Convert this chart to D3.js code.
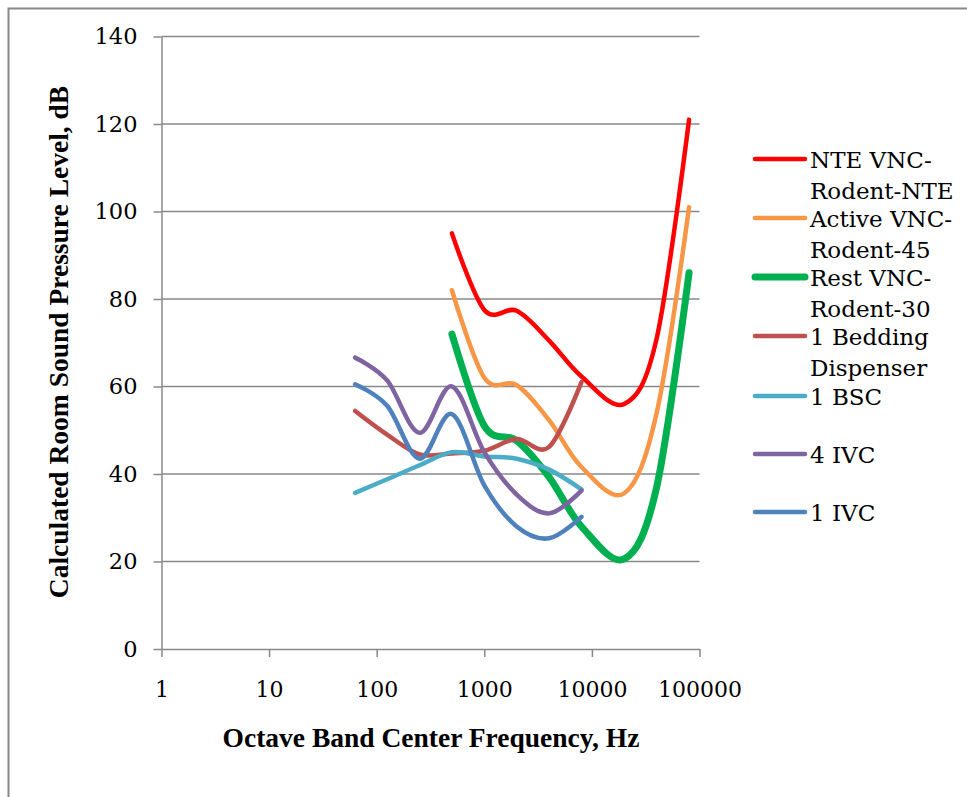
<!DOCTYPE html>
<html>
<head>
<meta charset="utf-8">
<script src="https://cdn.jsdelivr.net/npm/d3@7"></script>
<style>
  html, body { margin: 0; padding: 0; background: #fff; }
  svg { display: block; }
  text { fill: #000; }
</style>
</head>
<body>
<svg id="chart" width="967" height="797"></svg>
<script>
// Octave band centre frequencies (Hz)
const freqCriteria = [500, 1000, 2000, 4000, 8000, 20000, 40000, 80000];
const freqSources  = [63, 125, 250, 500, 1000, 2000, 4000, 8000];

// Room sound pressure levels (dB)
const nteVnc     = [95, 77.5, 77.3, 70.5, 62.3, 56, 71, 121];
const activeVnc  = [82, 62, 60.3, 52.3, 41.6, 35.6, 54, 101];
const restVnc    = [72, 51, 47.6, 39.3, 28, 20.6, 37, 86];
const bedding    = [54.4, 49, 44.5, 44.7, 45.3, 48, 46.2, 61];
const bsc        = [35.7, 38.8, 42, 45, 44, 43.5, 41, 36.5];
const ivc4       = [66.6, 61.4, 49.4, 60, 45, 35.3, 31, 36.2];
const ivc1       = [60.5, 55.6, 43.5, 53.7, 37.4, 28, 25.3, 30.2];

const seriesNames = [
  ["NTE VNC-", "Rodent-NTE"],
  ["Active VNC-", "Rodent-45"],
  ["Rest VNC-", "Rodent-30"],
  ["1 Bedding", "Dispenser"],
  ["1 BSC"],
  ["4 IVC"],
  ["1 IVC"]
];
const seriesColors = ["#FF0000", "#F79646", "#00B050", "#C0504D", "#4BACC6", "#8064A2", "#4F81BD"];
const seriesWidths = [4.5, 4.5, 7, 4.5, 4.5, 4.5, 4.5];

const yTicks = [0, 20, 40, 60, 80, 100, 120, 140];
const xTicks = [1, 10, 100, 1000, 10000, 100000];

const series = [
  { x: freqCriteria, y: nteVnc },
  { x: freqCriteria, y: activeVnc },
  { x: freqCriteria, y: restVnc },
  { x: freqSources,  y: bedding },
  { x: freqSources,  y: bsc },
  { x: freqSources,  y: ivc4 },
  { x: freqSources,  y: ivc1 }
].map((s, i) => ({
  name: seriesNames[i], color: seriesColors[i], width: seriesWidths[i],
  points: s.x.map((f, j) => [f, s.y[j]])
}));

const bodyFont = "'DejaVu Serif', serif";
const titleFont = "'Liberation Serif', 'Times New Roman', serif";

const svg = d3.select("#chart");
const gray = "#888888";

// outer frame
svg.append("rect")
  .attr("x", 8.5).attr("y", 8.5).attr("width", 1000).attr("height", 1000)
  .attr("fill", "none").attr("stroke", gray).attr("stroke-width", 2);

const x = d3.scaleLog().domain([1, 100000]).range([161.5, 699.5]);
const y = d3.scaleLinear().domain([0, 140]).range([649, 36.5]);

// horizontal gridlines
svg.append("g").selectAll("line")
  .data(yTicks.filter(d => d > 0))
  .join("line")
  .attr("x1", x.range()[0]).attr("x2", x.range()[1])
  .attr("y1", d => y(d)).attr("y2", d => y(d))
  .attr("stroke", gray).attr("stroke-width", 1.5);

// y axis
const yAxis = svg.append("g")
  .attr("transform", `translate(${x.range()[0]},0)`)
  .call(d3.axisLeft(y).tickValues(yTicks).tickSize(8).tickSizeOuter(0).tickPadding(16));
yAxis.select(".domain").attr("stroke", gray).attr("stroke-width", 1.5);
yAxis.selectAll(".tick line").attr("stroke", gray).attr("stroke-width", 1.5);
yAxis.selectAll(".tick text")
  .style("font-family", bodyFont).style("font-size", "22.5px").attr("fill", "#000");

// x axis
const xAxis = svg.append("g")
  .attr("transform", `translate(0,${y(0)})`)
  .call(d3.axisBottom(x).tickValues(xTicks).tickFormat(d3.format("d"))
    .tickSize(8).tickSizeOuter(0).tickPadding(24));
xAxis.select(".domain").attr("stroke", gray).attr("stroke-width", 1.5);
xAxis.selectAll(".tick line").attr("stroke", gray).attr("stroke-width", 1.5);
xAxis.selectAll(".tick text")
  .style("font-family", bodyFont).style("font-size", "22px").attr("fill", "#000");

// axis titles
svg.append("text")
  .attr("transform", "translate(68,342) rotate(-90)")
  .attr("text-anchor", "middle")
  .style("font-family", titleFont).style("font-weight", "bold").style("font-size", "27.5px")
  .text("Calculated Room Sound Pressure Level, dB");

svg.append("text")
  .attr("x", 431).attr("y", 747)
  .attr("text-anchor", "middle")
  .style("font-family", titleFont).style("font-weight", "bold").style("font-size", "27.5px")
  .text("Octave Band Center Frequency, Hz");

// smoothed series lines
const line = d3.line()
  .x(d => x(d[0])).y(d => y(d[1]))
  .curve(d3.curveCardinal.tension(0));

svg.append("g").selectAll("path")
  .data(series)
  .join("path")
  .attr("d", d => line(d.points))
  .attr("fill", "none")
  .attr("stroke", d => d.color)
  .attr("stroke-width", d => d.width)
  .attr("stroke-linecap", "round")
  .attr("stroke-linejoin", "round");

// legend
const legendY = [159, 218, 277, 336, 396, 454, 512];
const legend = svg.append("g").selectAll("g")
  .data(series)
  .join("g")
  .attr("transform", (d, i) => `translate(0,${legendY[i]})`);

legend.append("line")
  .attr("x1", 755).attr("x2", 805).attr("y1", 0).attr("y2", 0)
  .attr("stroke", d => d.color)
  .attr("stroke-width", d => d.width)
  .attr("stroke-linecap", "round");

legend.append("text")
  .attr("x", 810).attr("y", 8.5)
  .style("font-family", bodyFont).style("font-size", "23px")
  .selectAll("tspan")
  .data(d => d.name)
  .join("tspan")
  .attr("x", 810)
  .attr("dy", (d, i) => i === 0 ? 0 : 31)
  .text(d => d);
</script>
</body>
</html>
